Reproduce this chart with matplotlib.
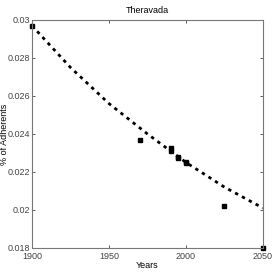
import numpy as np
import matplotlib
matplotlib.use("Agg")
import matplotlib.pyplot as plt

plt.rcParams['font.family'] = ['Liberation Sans Narrow', 'Liberation Sans', 'DejaVu Sans']

# observed shares
years_obs = [1900, 1970, 1990, 1990, 1995, 1995, 2000, 2000, 2025, 2050]
share_obs = [0.0297, 0.0237, 0.02325, 0.0231, 0.0228, 0.02275, 0.0225, 0.02245, 0.0202, 0.0180]

# fitted trend
years_fit = [1900, 1912.5, 1925, 1937.5, 1950, 1962.5, 1975, 1987.5, 2000, 2012.5, 2025, 2037.5, 2050]
share_fit = [0.0297, 0.0286, 0.0275, 0.02655, 0.0256, 0.0248, 0.0240, 0.02325, 0.0225,
             0.02185, 0.0212, 0.02065, 0.0201]

xticks = [1900, 1950, 2000, 2050]
yticks = [0.018, 0.02, 0.022, 0.024, 0.026, 0.028, 0.03]

fig = plt.figure(figsize=(2.73, 2.73), dpi=100)
ax = fig.add_axes([0.117, 0.092, 0.846, 0.835])

ax.plot(years_fit, share_fit, color='black', linestyle=(0, (1.2, 1.6)), linewidth=2.0)
ax.plot(years_obs, share_obs, linestyle='none', marker='s', markersize=2.6,
        color='black', clip_on=False)

ax.set_xlim(1900, 2050)
ax.set_ylim(0.018, 0.03)
ax.set_xticks(xticks)
ax.set_xticklabels([str(t) for t in xticks])
ax.set_yticks(yticks)
ax.set_yticklabels(['%g' % t for t in yticks])

ax.tick_params(direction='in', top=True, right=True, length=2.5, width=0.6,
               labelsize=6.5, colors='#444444', pad=1.5)
ax.tick_params(axis='x', pad=3)
for s in ax.spines.values():
    s.set_color('#777777')
    s.set_linewidth(0.8)

ax.set_title('Theravada', fontsize=6.5, pad=5)
ax.set_xlabel('Years', fontsize=6.5, labelpad=0)
ax.set_ylabel('% of Adherents', fontsize=6.5)
ax.yaxis.set_label_coords(-0.1, 0.5)

fig.savefig('out.png', dpi=100)
